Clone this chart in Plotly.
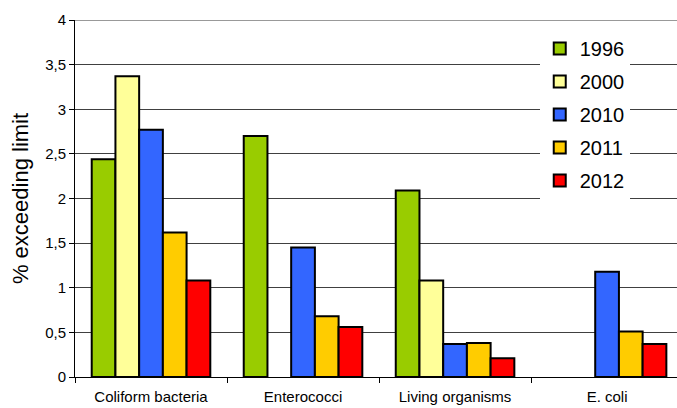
import plotly.graph_objects as go

categories = ["Coliform bacteria", "Enterococci", "Living organisms", "E. coli"]
years = ["1996", "2000", "2010", "2011", "2012"]
values_1996 = [2.44, 2.70, 2.09, None]
values_2000 = [3.37, None, 1.08, None]
values_2010 = [2.77, 1.45, 0.37, 1.18]
values_2011 = [1.62, 0.68, 0.38, 0.51]
values_2012 = [1.08, 0.56, 0.21, 0.37]
series = [values_1996, values_2000, values_2010, values_2011, values_2012]
colors = ["#99CC00", "#FFFF99", "#3366FF", "#FFCC00", "#FF0000"]

font_family = "Arial, Liberation Sans, sans-serif"

fig = go.Figure()
for year, vals, col in zip(years, series, colors):
    fig.add_trace(go.Bar(
        x=categories, y=vals, name=year, legendgroup=year,
        marker=dict(color=col, line=dict(color="black", width=2)),
    ))

fig.update_layout(
    width=677, height=408,
    margin=dict(l=75, r=0, t=20, b=31),
    paper_bgcolor="white", plot_bgcolor="white",
    barmode="group", bargap=0.22, bargroupgap=0,
    separators=", ",
    font=dict(family=font_family, color="black"),
    showlegend=True,
    legend=dict(
        x=0.772, y=0.975, xanchor="left", yanchor="top",
        bgcolor="white", borderwidth=0,
        font=dict(size=20, family=font_family, color="black"),
        tracegroupgap=4, traceorder="grouped",
    ),
    xaxis=dict(
        type="category", range=[-0.5, 3.46],
        tickson="boundaries", ticks="outside", ticklen=5, tickcolor="black",
        showline=True, linecolor="black", linewidth=1,
        showgrid=False, tickfont=dict(size=15), ticklabelstandoff=6,
    ),
    yaxis=dict(
        range=[0, 4], dtick=0.5, tick0=0,
        ticks="outside", ticklen=5, tickcolor="black",
        showline=True, linecolor="black", linewidth=1,
        showgrid=True, gridcolor="#404040", gridwidth=1,
        zeroline=False, tickfont=dict(size=15),
        title=dict(text="% exceeding limit", font=dict(size=22), standoff=10),
    ),
)

# Gray top border of the plot area
fig.add_shape(type="line", xref="paper", yref="y", x0=0, x1=1, y0=4, y1=4,
              line=dict(color="#999999", width=2))

fig.write_html("out.html")
